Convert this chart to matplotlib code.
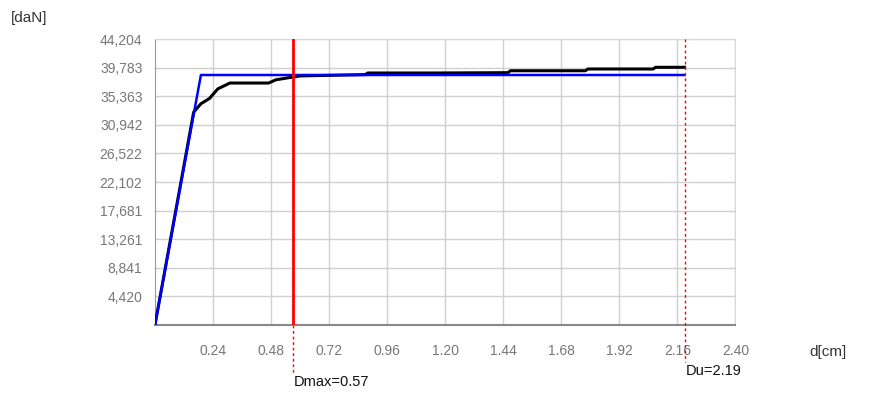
import numpy as np
import matplotlib.pyplot as plt

plt.rcParams['font.family'] = ['Liberation Sans', 'DejaVu Sans']

# dati
ymax = 44204
xmax = 2.40
x_ticks = [0.24, 0.48, 0.72, 0.96, 1.20, 1.44, 1.68, 1.92, 2.16, 2.40]
x_labels = ['0.24', '0.48', '0.72', '0.96', '1.20', '1.44', '1.68', '1.92', '2.16', '2.40']
y_labels = ['4,420', '8,841', '13,261', '17,681', '22,102', '26,522',
            '30,942', '35,363', '39,783', '44,204']

curva_x = [0, 0.16, 0.19, 0.225, 0.26, 0.31, 0.47, 0.50, 0.55, 0.60, 0.87,
           0.88, 1.16, 1.46, 1.47, 1.78, 1.79, 2.06, 2.07, 2.19]
curva_y = [0, 32900, 34200, 35000, 36500, 37400, 37400, 37900, 38200, 38500, 38700,
           38950, 38950, 39000, 39300, 39300, 39570, 39570, 39830, 39830]

bilin_x = [0, 0.19, 2.19]
bilin_y = [0, 38640, 38640]

dmax = 0.57
du = 2.19

fig = plt.figure(figsize=(8.78, 3.98), dpi=100)
ax = fig.add_axes([0.1765, 0.1834, 0.661, 0.7186])

ax.plot(curva_x, curva_y, color='black', lw=2.2, zorder=3)
ax.plot(bilin_x, bilin_y, color='#0000ff', lw=1.8, zorder=4)

ax.axvline(dmax, color='red', lw=2, zorder=5)
ax.plot([dmax, dmax], [0, -0.17], transform=ax.get_xaxis_transform(),
        color='red', lw=1, ls=(0, (2, 2)), clip_on=False)
ax.plot([du, du], [1, -0.13], transform=ax.get_xaxis_transform(),
        color='red', lw=1, ls=(0, (2, 2)), clip_on=False, zorder=5)

ax.text(dmax + 0.005, -0.2, f'Dmax={dmax}', transform=ax.get_xaxis_transform(),
        fontsize=10.5, color='#111111', ha='left', va='center')
ax.text(du + 0.005, -0.16, f'Du={du}', transform=ax.get_xaxis_transform(),
        fontsize=10.5, color='#111111', ha='left', va='center')

ax.set_xlim(0, xmax)
ax.set_ylim(0, ymax)
ax.set_xticks(x_ticks)
ax.set_xticklabels(x_labels)
ax.set_yticks(np.linspace(0, ymax, 11)[1:])
ax.set_yticklabels(y_labels, va='center_baseline')
ax.tick_params(length=0, labelsize=10, labelcolor='#777777')
ax.tick_params(axis='x', pad=14)
ax.tick_params(axis='y', pad=9)
ax.grid(True, color='#d0d0d0', lw=1)
ax.set_axisbelow(True)

for s in ['top', 'right']:
    ax.spines[s].set_color('#d8d8d8')
ax.spines['left'].set_color('#999999')
ax.spines['bottom'].set_color('#888888')
ax.spines['bottom'].set_linewidth(1.5)

fig.text(0.012, 0.955, '[daN]', fontsize=11, color='#333333', ha='left', va='center')
fig.text(0.922, 0.115, 'd[cm]', fontsize=11, color='#333333', ha='left', va='center')

fig.savefig('out.png', dpi=100)
